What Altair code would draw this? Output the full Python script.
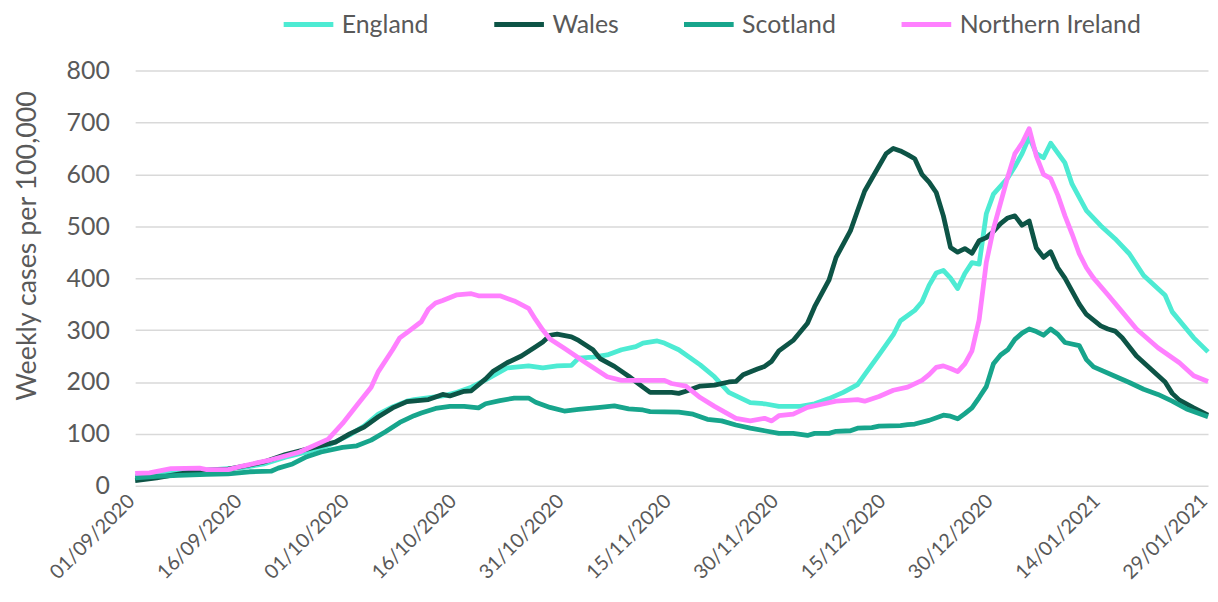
import altair as alt
import pandas as pd

# day offsets from 01/09/2020 and weekly cases per 100,000
england_days = [0, 5, 10, 15, 18, 21, 24, 27, 30, 32, 34, 36, 38, 39, 43, 45, 47, 49, 52, 55, 57, 59, 61, 62, 64, 66, 68, 70, 71, 73, 74, 76, 79, 81, 83, 86, 88, 90, 93, 95, 97, 99, 101, 102, 104, 106, 107, 109, 110, 111, 112, 113, 114, 115, 116, 117, 118, 119, 120, 122, 123, 124, 125, 126, 127, 128, 130, 131, 133, 135, 137, 139, 141, 144, 145, 148, 150]
england_vals = [18, 25, 30, 35, 42, 55, 65, 78, 98, 115, 138, 152, 163, 166, 173, 180, 190, 204, 227, 231, 227, 231, 232, 246, 248, 252, 262, 268, 275, 279, 275, 262, 233, 210, 180, 160, 158, 153, 153, 158, 168, 180, 195, 214, 252, 291, 318, 338, 354, 386, 410, 415, 400, 380, 409, 430, 427, 524, 562, 593, 615, 640, 672, 640, 632, 660, 622, 581, 530, 501, 476, 447, 405, 367, 335, 285, 258]

wales_days = [0, 3, 5, 9, 13, 16, 18, 21, 25, 28, 30, 32, 34, 36, 38, 41, 43, 44, 46, 47, 49, 50, 52, 54, 56, 57, 58, 59, 61, 62, 64, 65, 67, 69, 71, 72, 75, 76, 77, 79, 81, 83, 84, 85, 87, 88, 89, 90, 92, 94, 95, 97, 98, 100, 101, 102, 104, 105, 106, 107, 108, 109, 110, 111, 112, 113, 114, 115, 116, 117, 118, 119, 120, 121, 122, 123, 124, 125, 126, 127, 128, 129, 130, 131, 132, 133, 135, 136, 137, 138, 140, 142, 144, 145, 146, 148, 150]
wales_vals = [10, 15, 20, 29, 32, 40, 46, 60, 74, 84, 100, 113, 133, 150, 162, 166, 176, 173, 182, 183, 206, 220, 237, 250, 268, 277, 290, 292, 287, 280, 262, 245, 230, 211, 190, 180, 180, 178, 182, 192, 194, 200, 201, 214, 225, 230, 240, 260, 280, 313, 345, 396, 440, 491, 530, 568, 616, 640, 650, 645, 638, 630, 600, 585, 565, 520, 459, 450, 457, 448, 472, 478, 490, 505, 516, 520, 502, 510, 458, 440, 451, 420, 400, 375, 350, 330, 308, 302, 298, 285, 250, 225, 200, 178, 165, 150, 136]

scotland_days = [0, 3, 6, 10, 13, 16, 19, 20, 22, 24, 26, 29, 31, 33, 35, 37, 39, 40, 42, 44, 46, 48, 49, 51, 53, 55, 56, 58, 60, 62, 65, 67, 69, 71, 72, 76, 77, 78, 80, 82, 84, 86, 88, 90, 92, 94, 95, 97, 98, 100, 101, 103, 104, 107, 108, 109, 111, 113, 114, 115, 116, 117, 118, 119, 120, 121, 122, 123, 124, 125, 126, 127, 128, 129, 130, 132, 133, 134, 137, 139, 141, 143, 145, 147, 150]
scotland_vals = [15, 18, 20, 22, 23, 27, 28, 34, 42, 56, 65, 74, 77, 88, 104, 122, 135, 140, 149, 153, 153, 150, 158, 164, 169, 169, 161, 151, 144, 147, 151, 154, 148, 146, 143, 142, 140, 138, 128, 125, 117, 111, 106, 101, 101, 97, 101, 101, 105, 106, 111, 112, 115, 116, 118, 119, 126, 136, 134, 129, 139, 150, 170, 191, 235, 252, 262, 282, 294, 302, 297, 290, 302, 292, 276, 270, 243, 229, 211, 199, 186, 176, 163, 148, 133]

ni_days = [0, 2, 5, 9, 10, 13, 15, 19, 23, 27, 29, 31, 33, 34, 36, 37, 38, 40, 41, 42, 43, 45, 47, 48, 51, 53, 55, 56, 57, 58, 60, 63, 66, 68, 74, 75, 77, 79, 81, 84, 86, 88, 89, 90, 92, 94, 96, 98, 101, 102, 104, 106, 108, 110, 111, 112, 113, 114, 115, 116, 117, 118, 119, 120, 121, 122, 123, 124, 125, 126, 127, 128, 129, 130, 131, 132, 133, 134, 136, 138, 140, 143, 146, 148, 150]
ni_vals = [24, 25, 33, 34, 31, 31, 38, 50, 65, 90, 120, 155, 190, 220, 262, 285, 295, 316, 340, 352, 357, 368, 370, 366, 366, 356, 342, 320, 300, 283, 265, 237, 210, 203, 203, 197, 192, 170, 153, 130, 125, 130, 125, 135, 138, 151, 157, 163, 166, 163, 172, 184, 190, 203, 214, 228, 231, 226, 220, 235, 260, 320, 430, 495, 545, 595, 640, 660, 688, 635, 600, 592, 560, 520, 485, 447, 420, 400, 368, 335, 302, 266, 237, 212, 201]

countries = ["England", "Wales", "Scotland", "Northern Ireland"]
colors = ["#4DEBD3", "#0D5446", "#17A58C", "#FF80FF"]
tick_dates = ["2020-09-01", "2020-09-16", "2020-10-01", "2020-10-16", "2020-10-31", "2020-11-15",
              "2020-11-30", "2020-12-15", "2020-12-30", "2021-01-14", "2021-01-29"]

start = pd.Timestamp("2020-09-01")
rows = []
for name, days, vals in [("England", england_days, england_vals),
                         ("Wales", wales_days, wales_vals),
                         ("Scotland", scotland_days, scotland_vals),
                         ("Northern Ireland", ni_days, ni_vals)]:
    for d, v in zip(days, vals):
        rows.append({"date": (start + pd.Timedelta(days=d)).strftime("%Y-%m-%d"),
                     "country": name, "value": v})
df = pd.DataFrame(rows)

def dt(s):
    y, m, d = (int(p) for p in s.split("-"))
    return alt.DateTime(year=y, month=m, date=d, utc=True)

FONT = "Lato"
GRAY = "#595959"

chart = alt.Chart(df).mark_line(strokeWidth=4.8, strokeJoin="round").encode(
    x=alt.X("date:T",
            scale=alt.Scale(type="utc", domain=[dt(tick_dates[0]), dt(tick_dates[-1])]),
            axis=alt.Axis(values=[dt(s) for s in tick_dates],
                          labelExpr="utcFormat(datum.value, '%d/%m/%Y')",
                          labelAngle=-45, labelAlign="right", labelBaseline="middle",
                          labelFontSize=20, labelColor=GRAY, labelFont=FONT,
                          ticks=False, domain=False, grid=False, title=None,
                          labelPadding=12, labelOffset=-4,
                          labelFlush=False, labelOverlap=False, labelBound=False)),
    y=alt.Y("value:Q",
            scale=alt.Scale(domain=[0, 800], nice=False),
            axis=alt.Axis(values=list(range(0, 801, 100)), title="Weekly cases per 100,000",
                          titleFontSize=27, titleFont=FONT, titleColor=GRAY, titleFontWeight="normal",
                          titleX=-108, titleY=176, titleAlign="center", titleBaseline="middle",
                          labelFontSize=25, labelFont=FONT, labelColor=GRAY,
                          labelPadding=26, ticks=False, domain=False,
                          gridColor="#D9D9D9", gridWidth=1.5)),
    color=alt.Color("country:N",
                    scale=alt.Scale(domain=countries, range=colors),
                    sort=countries,
                    legend=alt.Legend(title=None, orient="none", direction="horizontal",
                                      legendX=147, legendY=-74,
                                      symbolType="stroke", symbolSize=2500, symbolStrokeWidth=5,
                                      labelFontSize=25, labelFont=FONT, labelColor=GRAY,
                                      labelLimit=400,
                                      labelOffset=6, columnPadding=55, columns=4)),
    detail="country:N",
).properties(
    width=1080, height=418,
    autosize=alt.AutoSizeParams(type="none"),
    padding={"left": 128, "top": 61, "right": 2, "bottom": 107},
).configure_view(stroke=None)

chart.save("out.html", embed_options={"renderer": "svg", "actions": False})
